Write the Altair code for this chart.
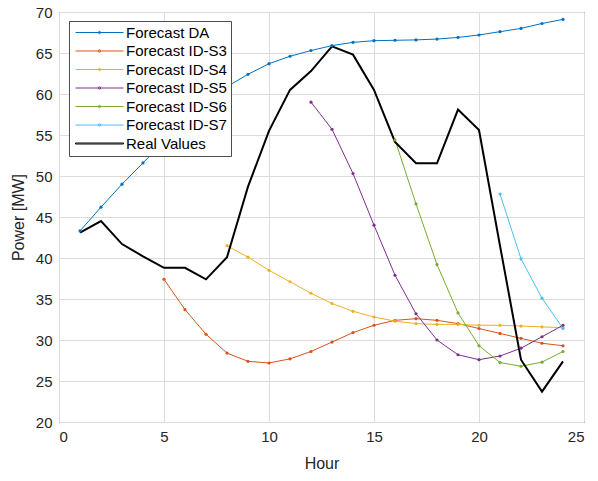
import altair as alt
import pandas as pd

hours = list(range(1, 25))
series_names = ["Forecast DA", "Forecast ID-S3", "Forecast ID-S4", "Forecast ID-S5",
                "Forecast ID-S6", "Forecast ID-S7", "Real Values"]
series_colors = ["#0072BD", "#D95319", "#EDB120", "#7E2F8E", "#77AC30", "#4DBEEE", "#000000"]

forecast_da = [43.3, 46.2, 49.0, 51.6, 54.2, 56.6, 58.9, 60.9, 62.4, 63.7, 64.6, 65.3,
               65.9, 66.3, 66.5, 66.55, 66.6, 66.7, 66.9, 67.2, 67.6, 68.0, 68.6, 69.1]
id_s3_start = 5
id_s3 = [37.4, 33.7, 30.7, 28.4, 27.4, 27.2, 27.7, 28.6, 29.75, 30.9, 31.8, 32.4, 32.6,
         32.4, 32.0, 31.4, 30.8, 30.2, 29.6, 29.3]
id_s4_start = 8
id_s4 = [41.5, 40.1, 38.5, 37.1, 35.7, 34.45, 33.5, 32.8, 32.3, 32.0, 31.9, 31.9, 31.8,
         31.8, 31.7, 31.6, 31.5]
id_s5_start = 12
id_s5 = [59.0, 55.7, 50.3, 44.0, 37.9, 33.2, 30.0, 28.2, 27.6, 28.05, 29.0, 30.4, 31.8]
id_s6_start = 16
id_s6 = [54.4, 46.6, 39.2, 33.3, 29.3, 27.25, 26.8, 27.3, 28.6]
id_s7_start = 21
id_s7 = [47.8, 39.9, 35.1, 31.4]
real_values = [43.1, 44.5, 41.7, 40.2, 38.8, 38.8, 37.4, 40.1, 48.7, 55.5, 60.5, 62.8,
               65.8, 64.8, 60.5, 54.15, 51.55, 51.55, 58.1, 55.6, 41.5, 27.6, 23.7, 27.4]

x_ticks = [0, 5, 10, 15, 20, 25]
y_ticks = [20, 25, 30, 35, 40, 45, 50, 55, 60, 65, 70]

rows = []
def add(name, start, vals):
    for i, v in enumerate(vals):
        rows.append({"Hour": start + i, "Power": v, "Series": name})

add("Forecast DA", 1, forecast_da)
add("Forecast ID-S3", id_s3_start, id_s3)
add("Forecast ID-S4", id_s4_start, id_s4)
add("Forecast ID-S5", id_s5_start, id_s5)
add("Forecast ID-S6", id_s6_start, id_s6)
add("Forecast ID-S7", id_s7_start, id_s7)
add("Real Values", 1, real_values)
df = pd.DataFrame(rows)

FONT = "Liberation Sans"
# legend glyphs: line with a dot for forecasts, thicker plain line for real values
dot_path = "M-4.8,0H4.8M0.25,0A0.25,0.25,0,1,1,-0.25,0A0.25,0.25,0,1,1,0.25,0"
thick_path = "M-4.8,-0.1H4.8V0.1H-4.8Z"
legend_shapes = [dot_path] * 6 + [thick_path]

color_scale = alt.Scale(domain=series_names, range=series_colors)
x_enc = alt.X("Hour:Q", scale=alt.Scale(domain=[0, 25], nice=False),
              axis=alt.Axis(values=x_ticks, title="Hour", format="d"))
y_enc = alt.Y("Power:Q", scale=alt.Scale(domain=[20, 70], nice=False, zero=False),
              axis=alt.Axis(values=y_ticks, title="Power [MW]", format="d"))

def make_legend():
    return alt.Legend(
        title=None, orient="none", legendX=10, legendY=9,
        fillColor="white", strokeColor="#4d4d4d", padding=4,
        symbolSize=100, symbolStrokeWidth=1, symbolOpacity=1,
        symbolOffset=19, labelOffset=19,
        labelFontSize=15, labelFont=FONT, labelColor="#000000", rowPadding=2.5,
    )

lines = alt.Chart(df).mark_line().encode(
    x=x_enc, y=y_enc,
    color=alt.Color("Series:N", scale=color_scale, legend=None),
    strokeWidth=alt.condition("datum.Series === 'Real Values'", alt.value(2), alt.value(1)),
    detail="Series:N",
)

points = alt.Chart(df).transform_filter("datum.Series !== 'Real Values'").mark_circle(
    size=10, opacity=1
).encode(
    x=x_enc, y=y_enc,
    color=alt.Color("Series:N", scale=color_scale, legend=None),
)

legend_layer = alt.Chart(df).transform_filter("false").mark_point(
    filled=False, opacity=1, strokeWidth=1
).encode(
    x=x_enc, y=y_enc,
    color=alt.Color("Series:N", scale=color_scale, legend=make_legend()),
    shape=alt.Shape("Series:N", scale=alt.Scale(domain=series_names, range=legend_shapes),
                    legend=make_legend()),
)

chart = alt.layer(lines, points, legend_layer).resolve_legend(
    color="independent", shape="independent"
).properties(
    width=525, height=410,
    background="white",
    autosize=alt.AutoSizeParams(type="none"),
    padding={"left": 59, "top": 12, "right": 14, "bottom": 59},
).configure_view(
    stroke="#262626", strokeWidth=1
).configure_axis(
    grid=True, gridColor="#dcdcdc", gridWidth=1,
    domain=False, ticks=False,
    labelFont=FONT, labelFontSize=15, labelColor="#262626", labelPadding=7,
    titleFont=FONT, titleFontSize=16, titleColor="#262626", titleFontWeight="normal",
).configure_axisY(titlePadding=9).configure_axisX(titlePadding=11)

chart.save("out.html", embed_options={"renderer": "svg", "actions": False})
